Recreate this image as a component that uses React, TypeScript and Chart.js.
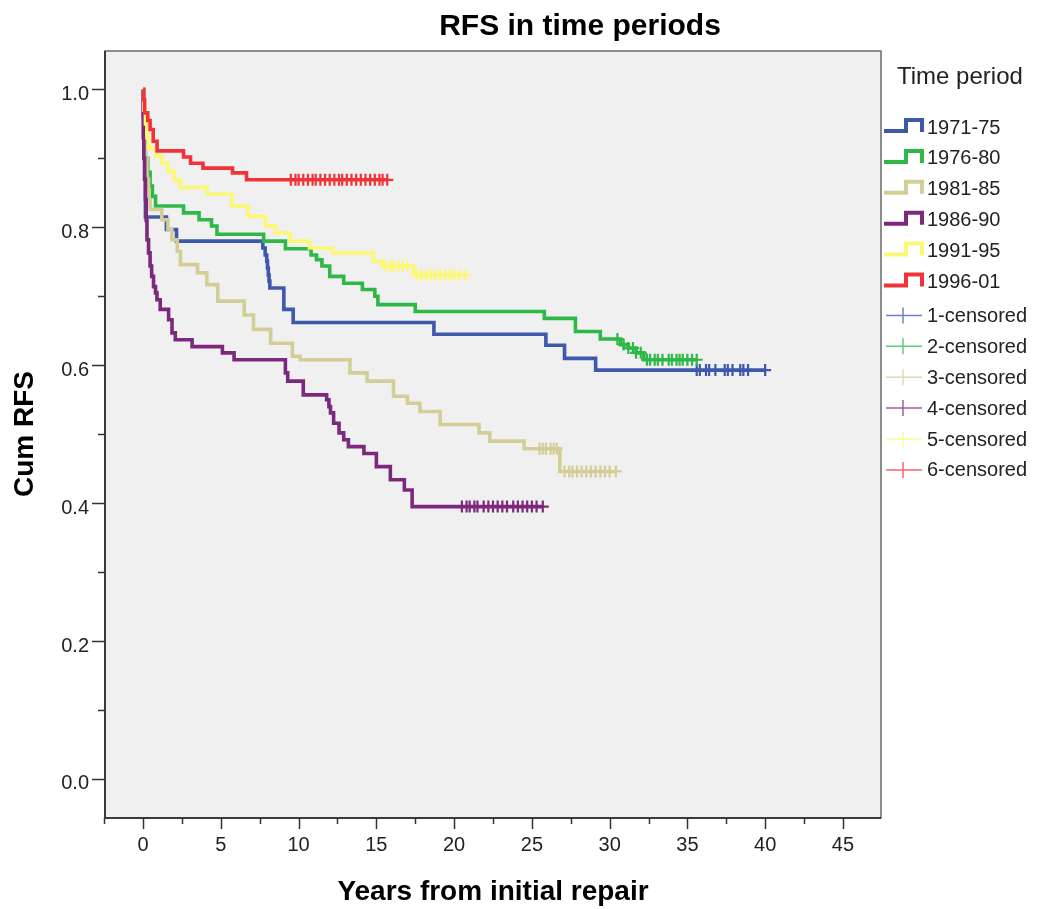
import React, { useEffect, useRef } from "react";
import { Chart, registerables } from "chart.js";

Chart.register(...registerables);

const chartTitle = "RFS in time periods";
const xAxisTitle = "Years from initial repair";
const yAxisTitle = "Cum RFS";
const legendTitle = "Time period";

const periods = ["1971-75", "1976-80", "1981-85", "1986-90", "1991-95", "1996-01"];
const censoredLabels = ["1-censored", "2-censored", "3-censored", "4-censored", "5-censored", "6-censored"];
const colors = ["#3E58AC", "#2EB848", "#D3CE97", "#7C287D", "#FBF873", "#EF3338"];

const xTickValues = [0, 5, 10, 15, 20, 25, 30, 35, 40, 45];
const xTickLabels = ["0", "5", "10", "15", "20", "25", "30", "35", "40", "45"];
const xMinorTicks = [-2.5, 2.5, 7.5, 12.5, 17.5, 22.5, 27.5, 32.5, 37.5, 42.5, 47.5];
const yTickValues = [0, 0.2, 0.4, 0.6, 0.8, 1.0];
const yTickLabels = ["0.0", "0.2", "0.4", "0.6", "0.8", "1.0"];
const yMinorTicks = [0.1, 0.3, 0.5, 0.7, 0.9];

// 1971-75
const blueTimes = [0, 0.02, 0.05, 0.1, 0.15, 1.5, 2.15, 7.7, 7.85, 7.95, 8.0, 8.05, 8.1, 8.15, 9.05, 9.65, 18.7, 25.9, 27.1, 29.1, 40.0];
const blueSurv = [1, 0.96, 0.91, 0.87, 0.815, 0.797, 0.78, 0.77, 0.76, 0.751, 0.741, 0.731, 0.722, 0.712, 0.681, 0.662, 0.645, 0.629, 0.61, 0.593, 0.593];
const blueCensored = [35.6, 35.8, 36.2, 36.4, 36.8, 37.4, 37.6, 37.9, 38.4, 38.6, 38.9, 40.0];

// 1976-80
const greenTimes = [0, 0.05, 0.15, 0.3, 0.45, 0.6, 0.8, 2.6, 3.6, 4.4, 4.75, 7.75, 9.15, 10.8, 11.15, 11.5, 12.0, 12.9, 14.1, 14.9, 15.1, 17.5, 25.8, 27.8, 29.4, 30.7, 31.2, 31.7, 32.2, 35.6];
const greenSurv = [1, 0.93, 0.9, 0.88, 0.86, 0.845, 0.831, 0.821, 0.811, 0.802, 0.79, 0.78, 0.769, 0.76, 0.753, 0.744, 0.729, 0.719, 0.71, 0.7, 0.688, 0.678, 0.668, 0.649, 0.638, 0.63, 0.625, 0.618, 0.608, 0.608];
const greenCensored = [30.5, 30.9, 31.2, 31.5, 31.7, 32.0, 32.4, 32.6, 32.9, 33.1, 33.4, 33.8, 34.0, 34.3, 34.5, 34.7, 35.0, 35.3, 35.6];

// 1981-85
const tanTimes = [0, 0.05, 0.15, 0.25, 0.35, 0.45, 1.2, 1.6, 1.85, 2.2, 2.4, 3.5, 4.1, 4.8, 6.5, 7.1, 8.2, 9.6, 10.1, 13.3, 14.4, 16.1, 17.0, 17.8, 19.1, 21.6, 22.3, 24.5, 26.8, 30.4];
const tanSurv = [1, 0.95, 0.9, 0.87, 0.84, 0.826, 0.811, 0.797, 0.782, 0.765, 0.746, 0.734, 0.717, 0.693, 0.673, 0.652, 0.632, 0.613, 0.608, 0.589, 0.577, 0.555, 0.545, 0.533, 0.514, 0.502, 0.49, 0.479, 0.446, 0.446];
const tanCensored = [25.5, 25.7, 25.9, 26.2, 26.4, 26.6, 27.1, 27.4, 27.6, 27.9, 28.2, 28.5, 28.8, 29.1, 29.4, 29.7, 30.0, 30.4];

// 1986-90
const purpleTimes = [0, 0.01, 0.05, 0.1, 0.15, 0.2, 0.25, 0.35, 0.45, 0.55, 0.67, 0.8, 0.89, 1.1, 1.64, 1.86, 2.07, 3.15, 5.1, 5.85, 9.15, 9.3, 10.3, 11.8, 11.95, 12.05, 12.25, 12.6, 12.9, 13.2, 14.2, 15.0, 15.9, 16.8, 17.3, 25.7];
const purpleSurv = [1, 0.93, 0.9, 0.87, 0.84, 0.81, 0.782, 0.763, 0.744, 0.729, 0.714, 0.705, 0.695, 0.681, 0.666, 0.647, 0.637, 0.627, 0.618, 0.608, 0.589, 0.577, 0.557, 0.55, 0.54, 0.531, 0.516, 0.502, 0.492, 0.482, 0.472, 0.453, 0.434, 0.419, 0.395, 0.395];
const purpleCensored = [20.5, 20.8, 21.0, 21.3, 21.5, 21.9, 22.2, 22.5, 22.8, 23.1, 23.4, 23.8, 24.1, 24.4, 24.7, 25.0, 25.3, 25.7];

// 1991-95
const yellowTimes = [0, 0.05, 0.15, 0.25, 0.35, 0.8, 1.2, 1.6, 2.0, 2.4, 4.1, 5.7, 6.75, 7.85, 8.5, 9.45, 10.7, 12.2, 14.8, 15.4, 17.4, 20.7];
const yellowSurv = [1, 0.97, 0.95, 0.93, 0.915, 0.903, 0.893, 0.881, 0.869, 0.858, 0.848, 0.831, 0.816, 0.802, 0.792, 0.78, 0.77, 0.763, 0.751, 0.744, 0.731, 0.731];
const yellowCensored = [15.6, 15.9, 16.1, 16.4, 16.7, 17.0, 17.6, 17.9, 18.2, 18.5, 18.8, 19.1, 19.4, 19.7, 20.0, 20.3, 20.7];

// 1996-01
const redTimes = [0, 0.05, 0.1, 0.3, 0.45, 0.65, 0.9, 2.6, 3.05, 3.85, 5.75, 6.65, 15.7];
const redSurv = [1, 0.985, 0.966, 0.955, 0.942, 0.925, 0.911, 0.902, 0.893, 0.886, 0.879, 0.869, 0.869];
const redCensored = [9.5, 9.8, 10.0, 10.3, 10.6, 10.9, 11.1, 11.4, 11.7, 12.0, 12.3, 12.6, 12.8, 13.1, 13.4, 13.7, 14.0, 14.3, 14.6, 14.9, 15.2, 15.4, 15.7];

const allTimes = [blueTimes, greenTimes, tanTimes, purpleTimes, yellowTimes, redTimes];
const allSurv = [blueSurv, greenSurv, tanSurv, purpleSurv, yellowSurv, redSurv];
const allCensored = [blueCensored, greenCensored, tanCensored, purpleCensored, yellowCensored, redCensored];

const FONT = '"Liberation Sans", Arial, Helvetica, sans-serif';

function survAt(times: number[], surv: number[], t: number) {
  let v = surv[0];
  for (let i = 0; i < times.length; i++) {
    if (times[i] <= t) v = surv[i];
  }
  return v;
}

const decorPlugin = {
  id: "decor",
  beforeDatasetsDraw(chart: any) {
    const { ctx, chartArea: a } = chart;
    ctx.save();
    ctx.fillStyle = "#F0F0F0";
    ctx.fillRect(a.left, a.top, a.right - a.left, a.bottom - a.top);
    ctx.restore();
  },
  afterDatasetsDraw(chart: any) {
    const { ctx, chartArea: a } = chart;
    const xs = chart.scales.x;
    const ys = chart.scales.y;
    ctx.save();
    ctx.strokeStyle = "#6a6a6a";
    ctx.lineWidth = 1.5;
    ctx.strokeRect(a.left, a.top, a.right - a.left, a.bottom - a.top);
    ctx.strokeStyle = "#3a3a3a";
    ctx.lineWidth = 2;
    ctx.beginPath();
    ctx.moveTo(a.left, a.top);
    ctx.lineTo(a.left, a.bottom);
    ctx.lineTo(a.right, a.bottom);
    ctx.stroke();
    ctx.lineWidth = 1.5;
    ctx.strokeStyle = "#333";
    ctx.beginPath();
    xTickValues.forEach((v) => {
      const px = Math.round(xs.getPixelForValue(v)) + 0.5;
      ctx.moveTo(px, a.bottom);
      ctx.lineTo(px, a.bottom + 11);
    });
    xMinorTicks.forEach((v) => {
      const px = Math.round(xs.getPixelForValue(v)) + 0.5;
      if (px < a.left - 1 || px > a.right + 1) return;
      ctx.moveTo(px, a.bottom);
      ctx.lineTo(px, a.bottom + 6);
    });
    yTickValues.forEach((v) => {
      const py = Math.round(ys.getPixelForValue(v)) + 0.5;
      ctx.moveTo(a.left, py);
      ctx.lineTo(a.left - 13, py);
    });
    yMinorTicks.forEach((v) => {
      const py = Math.round(ys.getPixelForValue(v)) + 0.5;
      ctx.moveTo(a.left, py);
      ctx.lineTo(a.left - 7, py);
    });
    ctx.stroke();
    ctx.restore();
  },
  afterDraw(chart: any) {
    const { ctx, chartArea: a } = chart;
    const xs = chart.scales.x;
    const ys = chart.scales.y;
    ctx.save();
    ctx.fillStyle = "#222";
    ctx.font = `20px ${FONT}`;
    ctx.textBaseline = "alphabetic";
    ctx.textAlign = "center";
    xTickValues.forEach((v, i) => {
      ctx.fillText(xTickLabels[i], xs.getPixelForValue(v), a.bottom + 33);
    });
    ctx.textAlign = "right";
    yTickValues.forEach((v, i) => {
      ctx.fillText(yTickLabels[i], a.left - 16, ys.getPixelForValue(v) + 10.5);
    });
    ctx.fillStyle = "#000";
    ctx.font = `bold 30px ${FONT}`;
    ctx.textAlign = "center";
    ctx.fillText(chartTitle, 580, 35);
    ctx.font = `bold 28px ${FONT}`;
    ctx.fillText(xAxisTitle, (a.left + a.right) / 2, 900);
    ctx.save();
    ctx.translate(33, 434);
    ctx.rotate(-Math.PI / 2);
    ctx.fillText(yAxisTitle, 0, 0);
    ctx.restore();
    ctx.textAlign = "left";
    ctx.textBaseline = "middle";
    ctx.fillStyle = "#222";
    ctx.font = `24px ${FONT}`;
    ctx.fillText(legendTitle, 897, 77);
    ctx.font = `20px ${FONT}`;
    const step = 30.9;
    periods.forEach((label, i) => {
      const cy = 127 + i * step;
      ctx.strokeStyle = colors[i];
      ctx.lineWidth = 4;
      ctx.lineJoin = "miter";
      ctx.beginPath();
      ctx.moveTo(884, cy + 4);
      ctx.lineTo(906, cy + 4);
      ctx.lineTo(906, cy - 7);
      ctx.lineTo(922, cy - 7);
      ctx.lineTo(922, cy + 5);
      ctx.stroke();
      ctx.fillStyle = "#222";
      ctx.fillText(label, 927, cy + 1);
    });
    censoredLabels.forEach((label, i) => {
      const cy = 127 + (6 + i) * step + 3;
      ctx.save();
      ctx.globalAlpha = 0.75;
      ctx.strokeStyle = colors[i];
      ctx.lineWidth = 1.5;
      ctx.beginPath();
      ctx.moveTo(886, cy);
      ctx.lineTo(922, cy);
      ctx.moveTo(903, cy - 8);
      ctx.lineTo(903, cy + 8);
      ctx.stroke();
      ctx.restore();
      ctx.fillStyle = "#222";
      ctx.fillText(label, 927, cy + 1);
    });
    ctx.restore();
  },
};

export default function App() {
  const canvasRef = useRef<HTMLCanvasElement | null>(null);

  useEffect(() => {
    if (!canvasRef.current) return;
    const datasets: any[] = [];
    periods.forEach((label, i) => {
      const times = allTimes[i];
      const surv = allSurv[i];
      datasets.push({
        type: "line",
        label,
        data: times.map((t, k) => ({ x: t, y: surv[k] })),
        borderColor: colors[i],
        backgroundColor: colors[i],
        borderWidth: 3.6,
        stepped: "before",
        pointRadius: 0,
        fill: false,
        order: (5 - i) * 2 + 1,
      });
      datasets.push({
        type: "line",
        label: censoredLabels[i],
        data: allCensored[i].map((t) => ({ x: t, y: survAt(times, surv, t) })),
        showLine: false,
        pointStyle: "cross",
        pointRadius: 6,
        pointBorderWidth: 2.2,
        pointBorderColor: colors[i],
        pointBackgroundColor: colors[i],
        borderColor: colors[i],
        order: (5 - i) * 2,
      });
    });

    const chart = new Chart(canvasRef.current, {
      type: "line",
      data: { datasets },
      options: {
        responsive: false,
        animation: false,
        devicePixelRatio: 1,
        layout: { padding: { left: 105, top: 51, right: 156, bottom: 91 } },
        plugins: {
          legend: { display: false },
          tooltip: { enabled: false },
          title: { display: false },
        },
        scales: {
          x: { type: "linear", min: -2.45, max: 47.45, display: false },
          y: { type: "linear", min: -0.0566, max: 1.0558, display: false },
        },
      },
      plugins: [decorPlugin],
    } as any);
    return () => chart.destroy();
  }, []);

  return (
    <div style={{ position: "fixed", left: 0, top: 0, width: 1037, height: 909, background: "#fff" }}>
      <canvas ref={canvasRef} width={1037} height={909} />
    </div>
  );
}
